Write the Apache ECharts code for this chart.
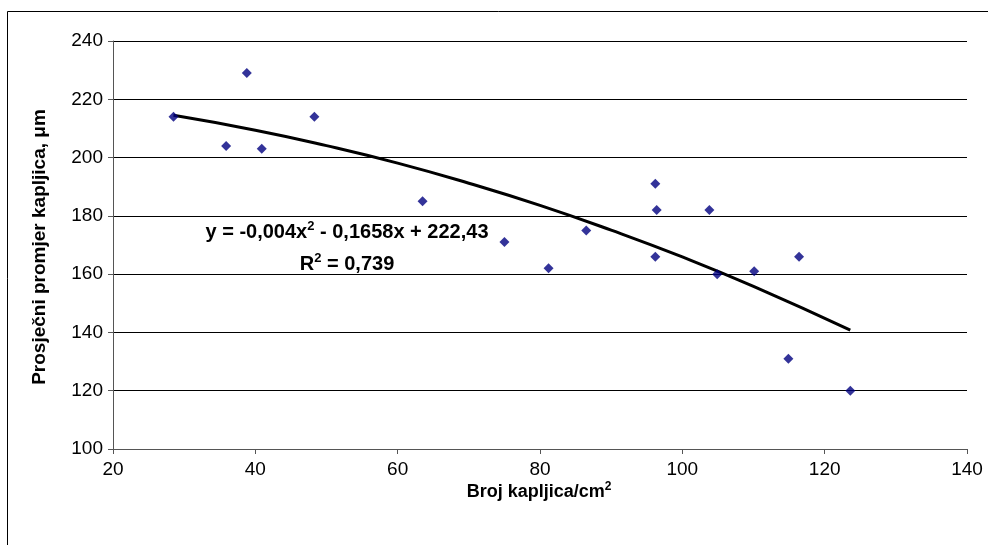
<!DOCTYPE html>
<html>
<head>
<meta charset="utf-8">
<script src="https://cdn.jsdelivr.net/npm/echarts@6/dist/echarts.min.js"></script>
<style>
    html, body { margin: 0; padding: 0; background: #fff; }
    #chart { width: 988px; height: 545px; }
</style>
</head>
<body>
<div id="chart"></div>
<script>
// 测量点：液滴数量 / 平均液滴直径
const brojKapljica = [28.5, 35.9, 38.8, 40.9, 48.3, 63.5, 75.0, 81.2, 86.5, 96.2, 96.4, 96.2, 103.8, 104.9, 110.1, 114.9, 116.4, 123.6];
const promjer = [214, 204, 229, 203, 214, 185, 171, 162, 175, 191, 182, 166, 182, 160, 161, 131, 166, 120];

// 趋势线（从图上读出的点）
const trendX = [28.5, 40, 50, 60, 70, 80, 90, 100, 110, 123.6];
const trendY = [214.5, 209.4, 204.1, 198.1, 191.2, 183.6, 175.1, 165.9, 155.8, 140.8];

const xTicks = [20, 40, 60, 80, 100, 120, 140];
const yTicks = [100, 120, 140, 160, 180, 200, 220, 240];

const fontFam = '"Liberation Sans", Arial, sans-serif';

const chart = echarts.init(document.getElementById('chart'));

function boldRich(size) {
    return {
        b: { fontSize: size, fontWeight: 'bold', fontFamily: fontFam, fill: '#000', color: '#000' },
        s: { fontSize: Math.round(size * 0.65), fontWeight: 'bold', fontFamily: fontFam, fill: '#000', color: '#000', padding: [0, 0, Math.round(size * 0.6), 0] }
    };
}

const option = {
    backgroundColor: '#fff',
    animation: false,
    grid: {
        left: 113,
        right: 21,
        top: 41,
        bottom: 96
    },
    xAxis: {
        type: 'value',
        min: xTicks[0],
        max: xTicks[xTicks.length - 1],
        interval: 20,
        axisLine: { show: true, lineStyle: { color: '#555', width: 1 } },
        axisTick: { show: true, length: 5, lineStyle: { color: '#555' } },
        axisLabel: { color: '#000', fontSize: 19, fontFamily: fontFam, margin: 11 },
        splitLine: { show: false }
    },
    yAxis: {
        type: 'value',
        min: yTicks[0],
        max: yTicks[yTicks.length - 1],
        interval: 20,
        axisLine: { show: true, lineStyle: { color: '#555', width: 1 } },
        axisTick: { show: true, length: 5, lineStyle: { color: '#555' } },
        axisLabel: { color: '#000', fontSize: 19, fontFamily: fontFam, margin: 10 },
        splitLine: { show: true, lineStyle: { color: '#000', width: 1 } }
    },
    series: [
        {
            name: 'trend',
            type: 'line',
            data: trendX.map((x, i) => [x, trendY[i]]),
            smooth: true,
            showSymbol: false,
            symbol: 'none',
            lineStyle: { color: '#000', width: 3 },
            z: 3
        },
        {
            name: 'mjerenja',
            type: 'scatter',
            data: brojKapljica.map((x, i) => [x, promjer[i]]),
            symbol: 'diamond',
            symbolSize: 10,
            itemStyle: { color: '#000080' },
            z: 4
        }
    ],
    graphic: [
        // 外框
        {
            type: 'rect',
            shape: { x: 7.5, y: 11.5, width: 1000, height: 600 },
            style: { fill: 'none', stroke: '#000', lineWidth: 1 },
            silent: true
        },
        // 回归方程
        {
            type: 'text',
            x: 347,
            y: 232,
            style: {
                text: '{b|y = -0,004x}{s|2}{b| - 0,1658x + 222,43}',
                align: 'center',
                verticalAlign: 'middle',
                rich: boldRich(20)
            }
        },
        {
            type: 'text',
            x: 347,
            y: 264,
            style: {
                text: '{b|R}{s|2}{b| = 0,739}',
                align: 'center',
                verticalAlign: 'middle',
                rich: boldRich(20)
            }
        },
        // X 轴标题
        {
            type: 'text',
            x: 539,
            y: 492,
            style: {
                text: '{b|Broj kapljica/cm}{s|2}',
                align: 'center',
                verticalAlign: 'middle',
                rich: boldRich(18)
            }
        },
        // Y 轴标题
        {
            type: 'text',
            x: 40,
            y: 247,
            rotation: Math.PI / 2,
            style: {
                text: 'Prosječni promjer kapljica, μm',
                align: 'center',
                verticalAlign: 'middle',
                fontSize: 19,
                fontWeight: 'bold',
                fontFamily: fontFam,
                fill: '#000'
            }
        }
    ]
};

chart.setOption(option);
</script>
</body>
</html>
